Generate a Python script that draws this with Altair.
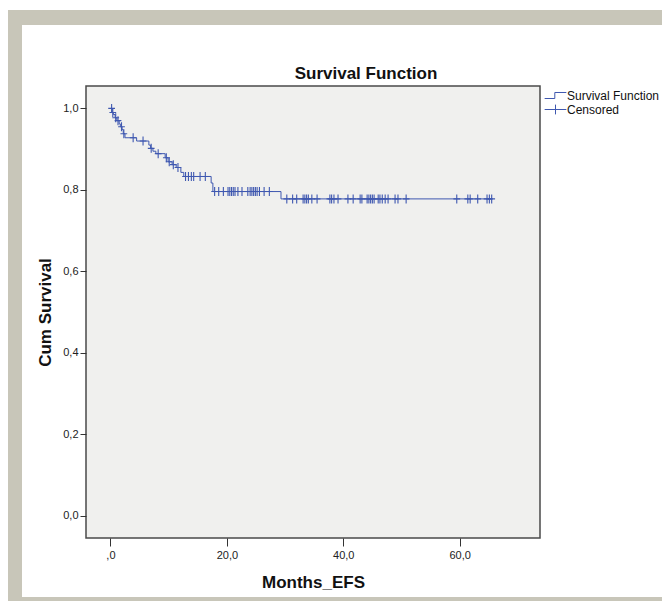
import altair as alt
import numpy as np
import pandas as pd

# ---- data (Kaplan-Meier curve) ----
chart_title = "Survival Function"
event_months = [0.0, 0.3, 0.5, 0.8, 1.1, 1.5, 1.7, 2.0, 2.2, 2.5, 4.5, 6.6, 6.9, 7.3, 7.8,
                9.4, 9.9, 10.6, 11.3, 12.1, 12.6, 17.3, 17.6, 29.3]
event_surv = [1.0, 0.99, 0.985, 0.977, 0.97, 0.962, 0.955, 0.948, 0.938, 0.928, 0.92, 0.91,
              0.902, 0.895, 0.889, 0.879, 0.869, 0.862, 0.855, 0.843, 0.833, 0.817, 0.796, 0.778]
censor_months = [0.2, 0.4, 0.9, 1.3, 1.9, 2.3, 3.9, 5.6, 7.0, 8.2, 9.6, 10.1, 10.8, 11.6,
                 12.9, 13.4, 13.9, 14.3, 15.4, 16.3, 17.9, 18.6, 19.4, 20.2, 20.5, 20.8, 21.1,
                 21.4, 21.9, 22.6, 23.6, 24.0, 24.3, 24.6, 24.9, 25.2, 25.6, 26.4, 27.3, 30.3,
                 31.3, 32.0, 33.1, 33.4, 33.7, 34.0, 34.6, 35.5, 37.7, 38.0, 38.4, 39.1, 40.8,
                 41.7, 42.9, 43.2, 44.1, 44.4, 44.7, 45.0, 45.3, 46.0, 46.3, 46.7, 47.2, 47.7,
                 48.9, 49.4, 50.8, 59.5, 61.4, 61.8, 63.1, 64.7, 65.1, 65.5]
legend_labels = ["Survival Function", "Censored"]
x_ticks = [0, 20, 40, 60]
y_ticks = [0.0, 0.2, 0.4, 0.6, 0.8, 1.0]

BLUE = "#3f58b0"
FONT = "Liberation Sans"

km_df = pd.DataFrame({"t": event_months + [censor_months[-1]],
                      "s": event_surv + [event_surv[-1]]})
idx = np.searchsorted(event_months, censor_months, side="right") - 1
cens_df = pd.DataFrame({"t": censor_months, "s": np.array(event_surv)[idx]})
legend_df = pd.DataFrame({"series": legend_labels})
one = pd.DataFrame({"a": [0]})
title_df = pd.DataFrame({"label": [chart_title]})

xscale = alt.Scale(domain=[-4.2, 73.8], nice=False, zero=False)
yscale = alt.Scale(domain=[-0.054, 1.055], nice=False, zero=False)

x_enc = alt.X("t:Q", scale=xscale, title="Months_EFS",
              axis=alt.Axis(values=x_ticks, grid=False, domain=False, tickSize=8,
                            labelPadding=3, titlePadding=14, zindex=2,
                            labelExpr="datum.value == 0 ? ',0' : replace(format(datum.value, '.1f'), '.', ',')"))
y_enc = alt.Y("s:Q", scale=yscale, title="Cum Survival",
              axis=alt.Axis(values=y_ticks, grid=False, domain=False, tickSize=6,
                            labelPadding=2, titlePadding=8, zindex=2,
                            labelExpr="replace(format(datum.value, '.1f'), '.', ',')"))

frame = alt.Chart(one).mark_rect(color="#c8c6b9").encode(
    x=alt.value(-78), x2=alt.value(576), y=alt.value(-76), y2=alt.value(515))
inner = alt.Chart(one).mark_rect(color="#ffffff").encode(
    x=alt.value(-64), x2=alt.value(576), y=alt.value(-61), y2=alt.value(511))
plotbg = alt.Chart(one).mark_rect(fill="#f0f0ee", stroke="#4a4a4a", strokeWidth=1.5).encode(
    x=alt.value(0), x2=alt.value("width"), y=alt.value(0), y2=alt.value("height"))
title_mark = alt.Chart(title_df).mark_text(font=FONT, fontSize=17, fontWeight="bold",
                                           color="#111", align="center",
                                           baseline="alphabetic").encode(
    text="label:N", x=alt.value(280), y=alt.value(-7))

line = alt.Chart(km_df).mark_line(interpolate="step-after", color=BLUE, strokeWidth=1).encode(
    x=x_enc, y=y_enc)
censor = alt.Chart(cens_df).mark_point(shape="M-0.75,0H0.75M0,-1V1", size=81, filled=False,
                                       color=BLUE, strokeWidth=1.1, opacity=1).encode(
    x=x_enc, y=y_enc)

step_path = "M-1.55,0.43H-0.1V-0.43H1.55"
cross_path = "M-1.55,0H1.55M0,-0.7V0.7"
legend_layer = alt.Chart(legend_df).mark_point(opacity=0, color=BLUE, filled=False).encode(
    shape=alt.Shape("series:N",
                    scale=alt.Scale(domain=legend_labels, range=[step_path, cross_path]),
                    legend=alt.Legend(title=None, orient="none", legendX=462, legendY=2,
                                      symbolSize=196, symbolStrokeColor=BLUE,
                                      symbolFillColor="transparent", symbolStrokeWidth=1,
                                      symbolOpacity=1, labelFont=FONT, labelFontSize=12,
                                      labelColor="#111", labelOffset=4, rowPadding=0,
                                      padding=0, zindex=2)))

chart = alt.layer(frame, inner, plotbg, title_mark, line, censor, legend_layer).properties(
    width=454, height=452,
    autosize=alt.AutoSizeParams(type="none"),
    padding={"left": 78, "top": 78, "right": 122, "bottom": 63},
    background="white",
).configure_view(strokeWidth=0).configure_axis(
    labelFont=FONT, labelFontSize=11, labelColor="#222",
    titleFont=FONT, titleFontSize=17, titleFontWeight="bold", titleColor="#111",
    tickColor="#333", tickWidth=1)

chart.save("out.html", embed_options={"renderer": "svg", "actions": False})
